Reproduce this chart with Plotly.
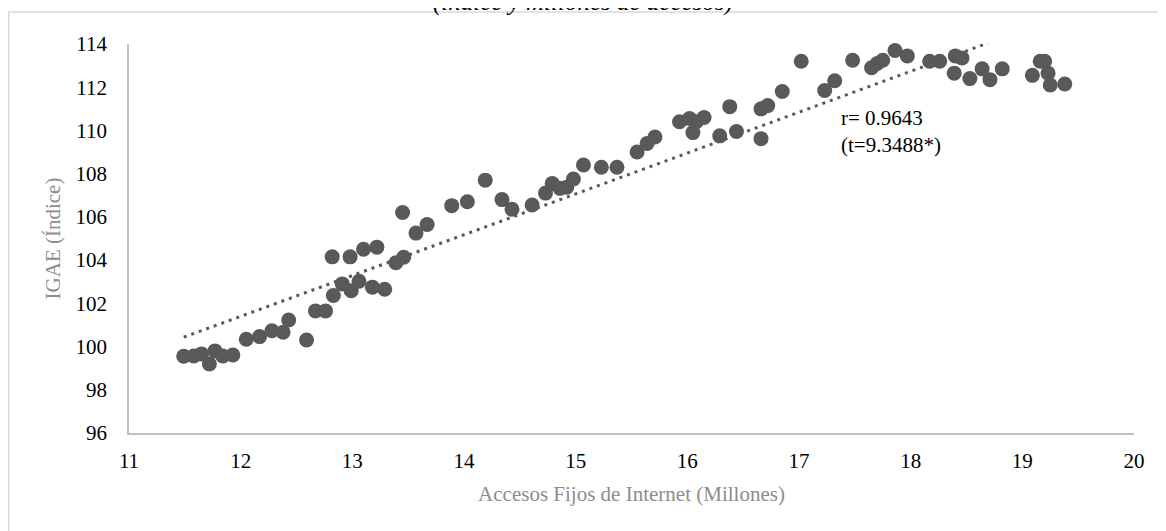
import numpy as np
import plotly.graph_objects as go

# Accesos fijos de internet (millones)
accesos = [11.49, 11.58, 11.65, 11.72, 11.77, 11.84, 11.93, 12.05, 12.17, 12.28,
           12.38, 12.43, 12.59, 12.67, 12.76, 12.82, 12.83, 12.91, 12.98, 12.99,
           13.06, 13.10, 13.18, 13.22, 13.29, 13.39, 13.45, 13.46, 13.57, 13.67,
           13.89, 14.03, 14.19, 14.34, 14.43, 14.61, 14.73, 14.79, 14.86, 14.92,
           14.98, 15.07, 15.23, 15.37, 15.55, 15.64, 15.71, 15.93, 16.02, 16.05,
           16.08, 16.15, 16.29, 16.38, 16.44, 16.66, 16.66, 16.72, 16.85, 17.02,
           17.23, 17.32, 17.48, 17.65, 17.70, 17.75, 17.86, 17.97, 18.17, 18.26,
           18.39, 18.40, 18.46, 18.53, 18.64, 18.71, 18.82, 19.09, 19.16, 19.20,
           19.23, 19.25, 19.38]
# IGAE (índice)
igae = [99.55, 99.56, 99.66, 99.19, 99.80, 99.56, 99.61, 100.34, 100.46, 100.73,
        100.66, 101.23, 100.30, 101.65, 101.65, 104.15, 102.36, 102.90, 104.15, 102.58,
        103.02, 104.50, 102.75, 104.60, 102.65, 103.88, 106.20, 104.13, 105.25, 105.65,
        106.52, 106.70, 107.70, 106.80, 106.35, 106.55, 107.10, 107.55, 107.32, 107.37,
        107.75, 108.40, 108.30, 108.30, 109.00, 109.40, 109.70, 110.40, 110.55, 109.90,
        110.40, 110.60, 109.75, 111.10, 109.95, 109.62, 111.00, 111.15, 111.80, 113.20,
        111.85, 112.30, 113.25, 112.90, 113.10, 113.25, 113.70, 113.45, 113.20, 113.20,
        112.65, 113.45, 113.35, 112.40, 112.85, 112.35, 112.85, 112.55, 113.20, 113.20,
        112.65, 112.10, 112.15]

x_ticks = [11, 12, 13, 14, 15, 16, 17, 18, 19, 20]
y_ticks = [96, 98, 100, 102, 104, 106, 108, 110, 112, 114]

title_text = "(índice y millones de accesos)"
x_title = "Accesos Fijos de Internet (Millones)"
y_title = "IGAE (Índice)"
stats_text = "r= 0.9643<br>(t=9.3488*)"

# linear trendline (least squares)
slope, intercept = np.polyfit(accesos, igae, 1)
tx = np.array([min(accesos), max(accesos)])
ty = slope * tx + intercept

FONT = "Liberation Serif"
GREY = "#595959"

fig = go.Figure()
fig.add_trace(go.Scatter(x=accesos, y=igae, mode="markers",
                         marker=dict(size=15, color=GREY, line=dict(width=0)),
                         showlegend=False, cliponaxis=False))
fig.add_trace(go.Scatter(x=tx, y=ty, mode="lines",
                         line=dict(color=GREY, width=3, dash="3px,5px"),
                         showlegend=False))

W, H = 1166, 531
L, T = 121, 36
pw, ph = 1005, 389
R = W - L - pw
B = H - T - ph

fig.update_layout(
    width=W, height=H,
    margin=dict(l=L, r=R, t=T, b=B, autoexpand=False),
    paper_bgcolor="white", plot_bgcolor="white",
    font=dict(family=FONT, size=21, color="#000000"),
    xaxis=dict(range=[11, 20], tickvals=x_ticks, showgrid=False, zeroline=False,
               showline=True, linecolor="#bfbfbf", linewidth=1.5,
               ticks="", ticklabelstandoff=8,
               tickfont=dict(family=FONT, size=21, color="#000000"),
               title=dict(text=x_title, font=dict(family=FONT, size=21, color="#8c8c8c"),
                          standoff=14)),
    yaxis=dict(range=[96, 114], tickvals=y_ticks, showgrid=False, zeroline=False,
               showline=True, linecolor="#bfbfbf", linewidth=1.5,
               ticks="", ticklabelstandoff=16,
               tickfont=dict(family=FONT, size=21, color="#000000"),
               title=dict(text=y_title, font=dict(family=FONT, size=21, color="#8c8c8c"),
                          standoff=9)),
)

fig.add_annotation(x=17.36, y=109.93, xref="x", yref="y", text=stats_text,
                   showarrow=False, xanchor="left", yanchor="middle", align="left",
                   font=dict(family=FONT, size=21, color="#000000"))

fig.add_annotation(x=(583 - 8 - L) / pw, y=1 + (T + 6) / ph, xref="paper", yref="paper",
                   text="<i>" + title_text + "</i>", showarrow=False,
                   xanchor="center", yanchor="middle",
                   font=dict(family=FONT, size=25, color="#000000"))

# outer chart border
fig.add_shape(type="rect", xref="paper", yref="paper",
              x0=(0.75 - L) / pw, x1=(W + 5 - L) / pw,
              y0=-(B + 5) / ph, y1=1 + (T - 4) / ph,
              line=dict(color="#d9d9d9", width=1.5), fillcolor="rgba(0,0,0,0)",
              layer="below")

fig.write_html("out.html")
